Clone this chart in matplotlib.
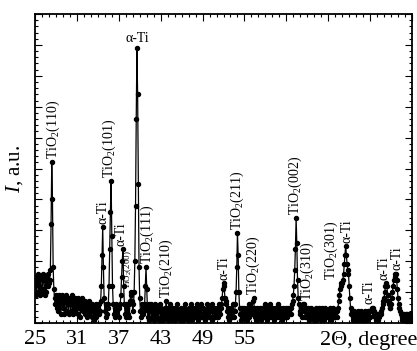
import matplotlib
matplotlib.use("Agg")
import matplotlib.pyplot as plt
from matplotlib.ticker import MultipleLocator, FixedLocator
import numpy as np

# scan settings (2-theta start and step, degrees)
scan_start = 25.0
scan_step = 0.1

# intensity, one row per degree (x.0 ... x.9)
intensity = [
    12, 15, 9, 13, 16, 10, 14, 9, 15, 11,     # 25
    10, 14, 16, 11, 9, 15, 10, 14, 12, 16,    # 26
    13, 14, 17, 32, 52, 40, 18, 11, 8, 6,     # 27
    9, 5, 8, 4, 9, 6, 8, 3, 7, 9,             # 28
    5, 8, 3, 7, 9, 4, 8, 6, 3, 7,             # 29
    8, 4, 6, 9, 3, 7, 5, 8, 4, 6,             # 30
    7, 3, 8, 5, 6, 2, 7, 5, 8, 4,             # 31
    6, 3, 7, 4, 2, 6, 5, 3, 7, 4,             # 32
    5, 2, 6, 4, 1, 5, 3, 6, 2, 4,             # 33
    5, 3, 6, 4, 7, 12, 22, 31, 18, 8,         # 34
    4, 2, 6, 3, 5, 6, 12, 24, 36, 46,         # 35
    28, 12, 6, 3, 5, 2, 6, 4, 3, 5,           # 36
    2, 5, 6, 9, 15, 20, 24, 12, 6, 3,         # 37
    6, 2, 5, 3, 6, 2, 7, 9, 10, 7,            # 38
    4, 6, 10, 20, 38, 66, 89, 74, 45, 18,     # 39
    8, 4, 2, 6, 3, 5, 4, 6, 12, 18,           # 40
    11, 5, 2, 6, 1, 4, 6, 2, 5, 3,            # 41
    5, 1, 6, 3, 2, 5, 4, 1, 4, 6,             # 42
    2, 5, 3, 1, 4, 2, 5, 4, 7, 3,             # 43
    1, 5, 4, 2, 6, 3, 1, 5, 2, 4,             # 44
    3, 1, 5, 2, 6, 3, 4, 1, 3, 5,             # 45
    4, 2, 1, 5, 3, 6, 2, 4, 3, 1,             # 46
    3, 5, 2, 6, 4, 1, 3, 5, 2, 4,             # 47
    5, 2, 6, 3, 1, 4, 2, 5, 6, 2,             # 48
    2, 5, 3, 1, 4, 2, 6, 3, 5, 2,             # 49
    4, 2, 5, 6, 1, 4, 3, 5, 2, 4,             # 50
    3, 5, 2, 4, 6, 3, 5, 6, 8, 11,            # 51
    13, 12, 8, 7, 6, 4, 2, 5, 1, 4,           # 52
    3, 5, 2, 6, 4, 2, 4, 6, 10, 18,           # 53
    29, 22, 10, 5, 3, 1, 5, 2, 4, 3,          # 54
    5, 2, 4, 1, 5, 3, 6, 2, 5, 4,             # 55
    3, 5, 7, 8, 5, 2, 4, 1, 5, 3,             # 56
    4, 2, 5, 3, 1, 5, 2, 4, 3, 6,             # 57
    2, 4, 1, 5, 3, 2, 6, 3, 4, 2,             # 58
    5, 3, 4, 1, 5, 2, 4, 3, 6, 2,             # 59
    3, 5, 2, 4, 1, 5, 3, 4, 2, 5,             # 60
    4, 2, 5, 3, 4, 5, 3, 5, 6, 7,             # 61
    9, 12, 17, 24, 34, 26, 14, 8, 6, 4,       # 62
    3, 5, 2, 5, 6, 6, 4, 2, 5, 3,             # 63
    2, 5, 3, 1, 4, 3, 5, 2, 4, 1,             # 64
    4, 2, 1, 5, 3, 4, 2, 5, 3, 1,             # 65
    3, 5, 2, 4, 1, 3, 5, 2, 4, 3,             # 66
    4, 2, 5, 3, 1, 4, 3, 5, 2, 3,             # 67
    3, 4, 2, 4, 5, 7, 9, 11, 12, 13,          # 68
    13, 14, 16, 19, 22, 25, 22, 19, 17, 16,   # 69
    12, 8, 5, 3, 4, 1, 2, 4, 3, 2,            # 70
    1, 3, 4, 2, 1, 3, 2, 4, 3, 1,             # 71
    3, 1, 2, 4, 3, 1, 3, 4, 2, 4,             # 72
    2, 4, 4, 5, 5, 4, 3, 2, 1, 3,             # 73
    3, 1, 3, 2, 3, 3, 4, 5, 6, 7,             # 74
    8, 10, 12, 13, 12, 9, 7, 6, 5, 5,         # 75
    6, 8, 10, 12, 14, 15, 16, 16, 14, 11,     # 76
    8, 6, 5, 4, 3, 2, 1, 3, 2, 3,             # 77
    1, 3, 2, 3, 1, 3, 2, 3, 1, 3,             # 78
    2,                                        # 79
]
two_theta = scan_start + scan_step * np.arange(len(intensity))
intensity = np.array(intensity, dtype=float)

# peak labels: text, peak position (2theta)
peak_labels = ["TiO$_2$(110)", "TiO$_2$(101)", "α-Ti", "α-Ti", "TiO$_2$(200)",
               "TiO$_2$(111)", "TiO$_2$(210)", "α-Ti", "TiO$_2$(211)", "TiO$_2$(220)",
               "TiO$_2$(002)", "TiO$_2$(310)", "TiO$_2$(301)", "α-Ti", "α-Ti",
               "α-Ti", "α-Ti"]
peak_theta = [27.4, 35.9, 34.7, 37.6, 38.8, 40.9, 43.8, 52.0, 54.0, 56.3,
              62.4, 63.5, 68.9, 69.5, 73.3, 75.3, 76.6]
# where the text sits relative to its peak (degrees)
label_dx = [0.2, -0.3, 0.1, -0.3, -0.5, 0.15, 0.0, 0.1, 0.0, 0.0,
            -0.1, 0.45, -1.5, 0.2, -0.4, -0.3, 0.25]
main_label = "α-Ti"
main_theta = 39.6

xtick_vals = [25, 31, 37, 43, 49, 55, 61, 67, 73, 79]
xtick_text = ["25", "31", "37", "43", "49", "55", "", "", "", ""]

plt.rcParams["font.family"] = ["Liberation Serif", "DejaVu Serif"]
plt.rcParams["mathtext.fontset"] = "custom"
plt.rcParams["mathtext.rm"] = "Liberation Serif"
plt.rcParams["mathtext.it"] = "Liberation Serif:italic"

fig = plt.figure(figsize=(4.17, 3.51), dpi=100)
ax = fig.add_axes([35 / 417, 28 / 351, 377 / 417, 309 / 351])

ax.plot(two_theta, intensity, color="black", lw=0.9, marker="o",
        ms=2.9, mec="black", mfc="black")

ax.set_xlim(25, 79)
ax.set_ylim(0, 100)

def peak_top(t):
    i = int(round((t - scan_start) / scan_step))
    return intensity[max(i - 1, 0):i + 2].max()

for txt, t, dx in zip(peak_labels, peak_theta, label_dx):
    size = 6.5 if "200" in txt else 10
    ax.text(t + dx, peak_top(t) + 1.0, txt, rotation=90, ha="center",
            va="bottom", fontsize=size)
ax.text(main_theta, peak_top(main_theta) + 1.0, main_label, ha="center",
        va="bottom", fontsize=10)

ax.xaxis.set_major_locator(FixedLocator(xtick_vals))
ax.set_xticklabels(xtick_text)
ax.xaxis.set_minor_locator(MultipleLocator(1))
ax.yaxis.set_major_locator(MultipleLocator(10))
ax.yaxis.set_minor_locator(MultipleLocator(2))
ax.set_yticklabels([])
ax.tick_params(which="both", direction="in", top=True, right=True, width=0.8)
ax.tick_params(which="major", length=5)
ax.tick_params(which="minor", length=2.5)
ax.tick_params(axis="x", labelsize=16, pad=5)
for s in ax.spines.values():
    s.set_linewidth(1.3)

ax.set_ylabel("$I$, a.u.", fontsize=15, labelpad=4)
ax.set_xlabel("2Θ, degree", fontsize=16, loc="right")
ax.xaxis.set_label_coords(1.013, -0.025)

fig.savefig("out.png", dpi=100)
